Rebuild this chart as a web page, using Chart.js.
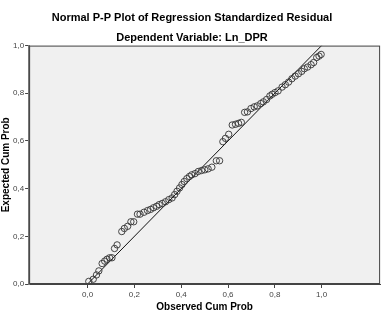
<!DOCTYPE html>
<html>
<head>
<meta charset="UTF-8">
<script src="https://cdn.jsdelivr.net/npm/chart.js"></script>
<style>
    body { margin: 0; background: #fff; }
    #box { width: 385px; height: 312px; }
</style>
</head>
<body>
<div id="box"><canvas id="graf_pp"></canvas></div>
<script>
    // valores
    const tituloLinhas = ['Normal P-P Plot of Regression Standardized Residual', 'Dependent Variable: Ln_DPR'];
    const tituloX = 'Observed Cum Prob';
    const tituloY = 'Expected Cum Prob';
    const ticksEixo = [0, 0.2, 0.4, 0.6, 0.8, 1.0];

    const observedCumProb = [0.005, 0.024, 0.038, 0.048, 0.062, 0.073, 0.083, 0.094, 0.104, 0.115,
        0.126, 0.146, 0.157, 0.171, 0.185, 0.197, 0.213, 0.224, 0.241, 0.256,
        0.269, 0.282, 0.295, 0.306, 0.319, 0.333, 0.347, 0.361, 0.372, 0.382,
        0.393, 0.403, 0.413, 0.424, 0.435, 0.445, 0.459, 0.473, 0.487, 0.501,
        0.515, 0.531, 0.550, 0.564, 0.578, 0.589, 0.603, 0.618, 0.632, 0.645,
        0.657, 0.671, 0.683, 0.698, 0.712, 0.725, 0.740, 0.751, 0.765, 0.779,
        0.789, 0.801, 0.814, 0.831, 0.845, 0.859, 0.873, 0.887, 0.901, 0.915,
        0.926, 0.940, 0.955, 0.966, 0.979, 0.989, 0.998];
    const expectedCumProb = [0.011, 0.020, 0.038, 0.055, 0.086, 0.096, 0.104, 0.110, 0.110, 0.149,
        0.164, 0.220, 0.233, 0.242, 0.261, 0.261, 0.293, 0.293, 0.301, 0.308,
        0.313, 0.320, 0.326, 0.333, 0.338, 0.345, 0.354, 0.361, 0.375, 0.389,
        0.403, 0.417, 0.430, 0.442, 0.451, 0.458, 0.463, 0.472, 0.476, 0.479,
        0.483, 0.490, 0.517, 0.517, 0.597, 0.611, 0.628, 0.667, 0.670, 0.674,
        0.678, 0.720, 0.722, 0.736, 0.743, 0.747, 0.757, 0.764, 0.774, 0.789,
        0.796, 0.803, 0.810, 0.826, 0.836, 0.847, 0.861, 0.872, 0.882, 0.892,
        0.903, 0.910, 0.920, 0.929, 0.950, 0.956, 0.963];

    const linhaRefX = [0, 1];
    const linhaRefY = [0, 1];

    let pontos = [];
    for (let i = 0; i < observedCumProb.length; i++) {
        pontos.push({ x: observedCumProb[i], y: expectedCumProb[i] });
    }
    let linha = [];
    for (let i = 0; i < linhaRefX.length; i++) {
        linha.push({ x: linhaRefX[i], y: linhaRefY[i] });
    }

    function formatarVirgula(v) {
        return v.toFixed(1).replace('.', ',');
    }

    // fundo cinza e moldura da area do grafico
    const fundoArea = {
        id: 'fundoArea',
        beforeDraw(chart) {
            const { ctx, chartArea: a } = chart;
            ctx.save();
            ctx.fillStyle = '#f0f0f0';
            ctx.fillRect(a.left, a.top, a.right - a.left, a.bottom - a.top);
            ctx.restore();
        },
        afterDraw(chart) {
            const { ctx, chartArea: a } = chart;
            ctx.save();
            ctx.strokeStyle = '#444';
            ctx.lineWidth = 1;
            ctx.strokeRect(a.left + 0.5, a.top + 0.5, a.right - a.left - 1, a.bottom - a.top - 1);
            ctx.restore();
        }
    };

    const config = {
        type: 'scatter',
        data: {
            datasets: [{
                label: 'Observed',
                data: pontos,
                pointStyle: 'circle',
                pointRadius: 3.2,
                borderColor: '#333',
                backgroundColor: 'rgba(0,0,0,0)',
                borderWidth: 0.9
            }, {
                type: 'line',
                label: 'Ref',
                data: linha,
                borderColor: '#111',
                borderWidth: 1,
                pointRadius: 0,
                fill: false
            }]
        },
        options: {
            responsive: true,
            maintainAspectRatio: false,
            animation: false,
            layout: { padding: { left: 0, right: 1, top: 0, bottom: 0 } },
            plugins: {
                legend: { display: false },
                tooltip: { enabled: false },
                title: {
                    display: true,
                    text: tituloLinhas,
                    color: '#000',
                    font: { family: 'Liberation Sans, Arial', size: 11, weight: 'bold', lineHeight: 1.8 },
                    padding: { top: 8, bottom: -2 }
                }
            },
            scales: {
                x: {
                    type: 'linear',
                    min: -0.25,
                    max: 1.25,
                    afterBuildTicks(scale) {
                        scale.ticks = ticksEixo.map(v => ({ value: v }));
                    },
                    ticks: {
                        callback: v => formatarVirgula(v),
                        color: '#444',
                        font: { family: 'Liberation Sans, Arial', size: 8, lineHeight: 1 },
                        padding: 3,
                        maxRotation: 0
                    },
                    grid: { drawOnChartArea: false, drawTicks: true, tickLength: 4, color: '#444' },
                    border: { display: true, color: '#444' },
                    title: {
                        display: true,
                        text: tituloX,
                        color: '#000',
                        font: { family: 'Liberation Sans, Arial', size: 10, weight: 'bold', lineHeight: 1 },
                        padding: { top: 0, bottom: 0 }
                    }
                },
                y: {
                    type: 'linear',
                    min: 0,
                    max: 1,
                    afterBuildTicks(scale) {
                        scale.ticks = ticksEixo.map(v => ({ value: v }));
                    },
                    ticks: {
                        callback: v => formatarVirgula(v),
                        color: '#444',
                        font: { family: 'Liberation Sans, Arial', size: 8 },
                        padding: 1
                    },
                    grid: { drawOnChartArea: false, drawTicks: true, tickLength: 4, color: '#444' },
                    border: { display: true, color: '#777', width: 2 },
                    title: {
                        display: true,
                        text: tituloY,
                        color: '#000',
                        font: { family: 'Liberation Sans, Arial', size: 10, weight: 'bold' },
                        padding: { top: 0, bottom: 0 }
                    }
                }
            }
        },
        plugins: [fundoArea]
    };

    let myChart = new Chart(document.getElementById('graf_pp'), config);
</script>
</body>
</html>
